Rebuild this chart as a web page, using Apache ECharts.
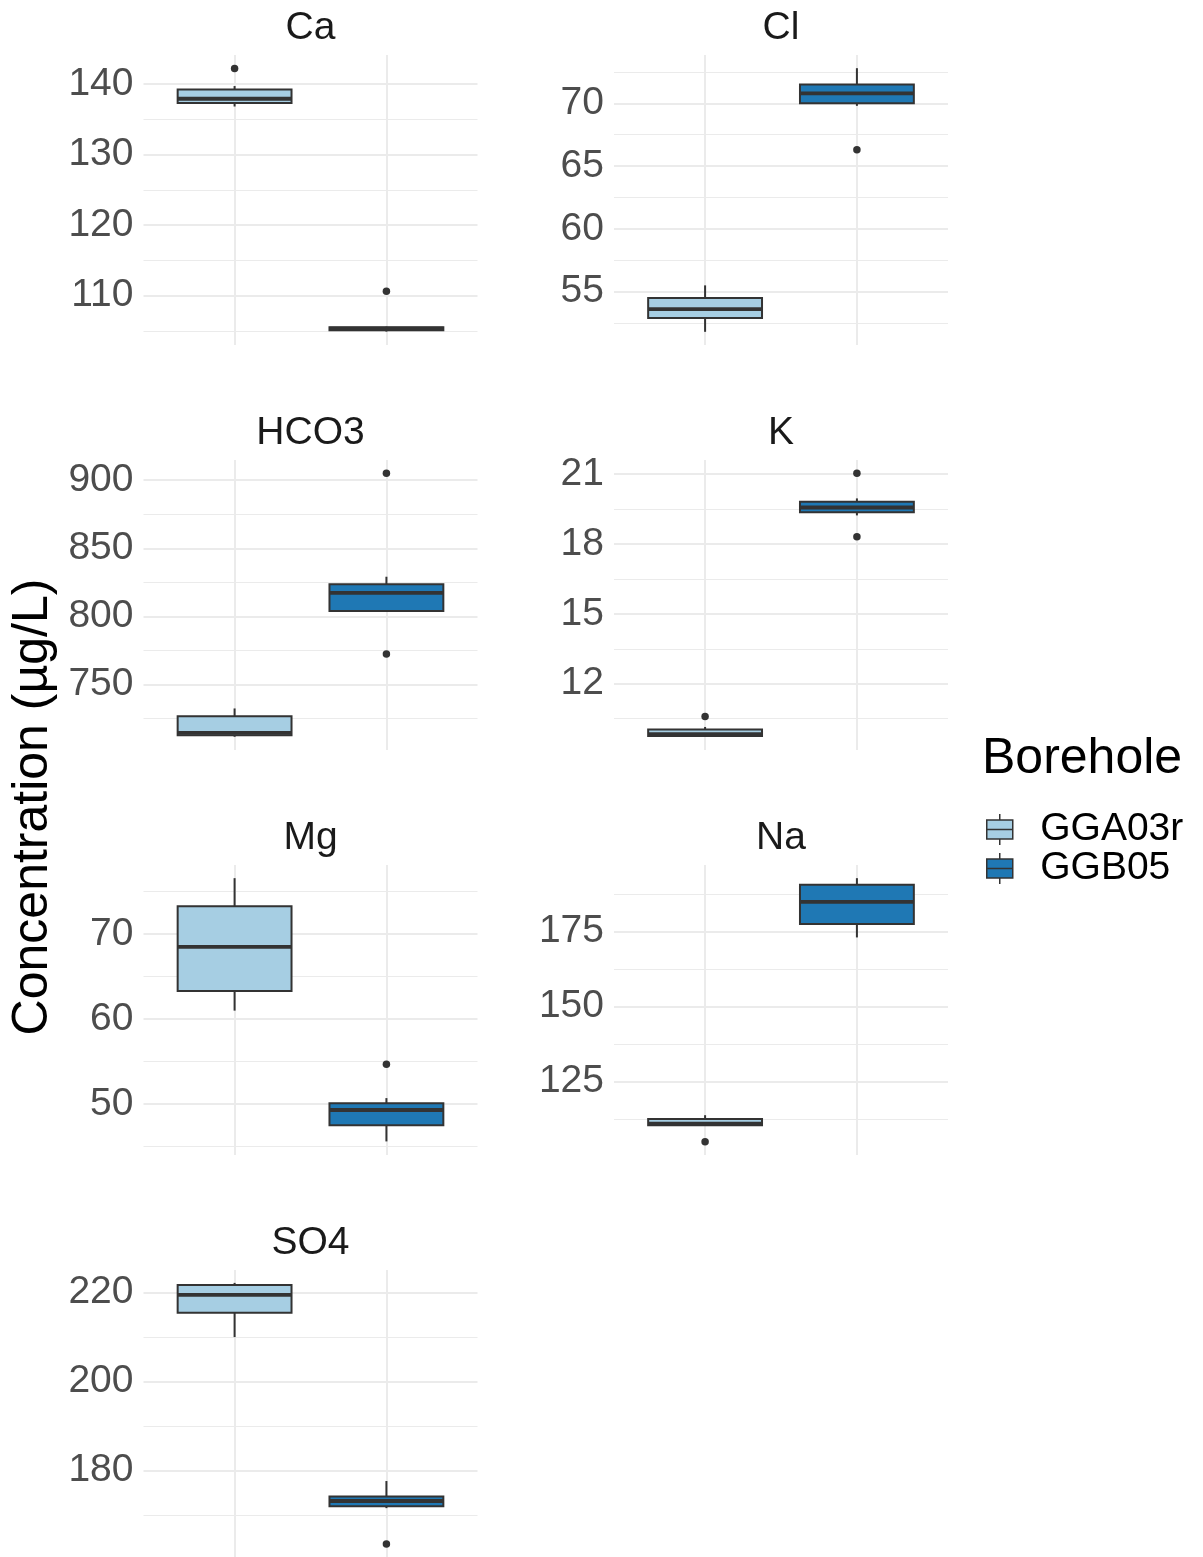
<!DOCTYPE html>
<html>
<head>
<meta charset="utf-8">
<title>Concentration by borehole</title>
<script src="https://cdn.jsdelivr.net/npm/echarts@6/dist/echarts.min.js"></script>
<style>
  html, body { margin: 0; padding: 0; background: #fff; }
  #main { width: 1203px; height: 1557px; }
</style>
</head>
<body>
<div id="main"></div>
<script>
// data
var elements = ['Ca', 'Cl', 'HCO3', 'K', 'Mg', 'Na', 'SO4'];
var boreholes = ['GGA03r', 'GGB05'];

// [lower whisker, Q1, median, Q3, upper whisker]
var statsGGA03r = [
    [136.8, 137.3, 137.9, 139.2, 139.7],
    [51.8, 52.9, 53.6, 54.5, 55.5],
    [711.6, 712.8, 714.5, 726.7, 732.4],
    [9.72, 9.75, 9.83, 10.03, 10.14],
    [61.0, 63.3, 68.5, 73.3, 76.6],
    [110.1, 110.3, 110.9, 112.4, 113.7],
    [210.0, 215.5, 219.5, 221.7, 222.2]
];
var statsGGB05 = [
    [104.9, 105.1, 105.3, 105.5, 105.6],
    [69.8, 70.0, 70.8, 71.5, 72.8],
    [803.9, 803.9, 817.3, 823.5, 829.1],
    [19.23, 19.37, 19.57, 19.82, 19.96],
    [45.6, 47.5, 49.3, 50.1, 50.7],
    [173.1, 177.6, 185.0, 190.7, 192.9],
    [171.5, 171.9, 173.1, 174.1, 177.6]
];
var outliersGGA03r = [[142.2], [], [], [10.59], [], [104.8], []];
var outliersGGB05 = [[110.6], [66.3], [905.1, 772.3], [21.04, 18.31], [54.7], [], [163.4]];

// y scale of each panel
var yMin = [103.0, 50.75, 701.9, 9.15, 44.0, 100.4, 160.5];
var yMax = [144.1, 73.85, 914.8, 21.61, 78.15, 197.3, 225.1];
var yStep = [10, 5, 50, 3, 10, 25, 20];

(function () {
    var myChart = echarts.init(document.getElementById('main'));

    var colors = { GGA03r: '#A6CEE3', GGB05: '#1F78B4' };
    var font = '"Liberation Sans", Arial, sans-serif';
    var gridColor = '#EBEBEB';
    var ink = '#333333';
    var halfBox = 0.375;

    function renderBox(params, api) {
        var x = api.value(0);
        var lo = api.coord([x, api.value(1)]);
        var q1 = api.coord([x, api.value(2)]);
        var med = api.coord([x, api.value(3)]);
        var q3 = api.coord([x, api.value(4)]);
        var hi = api.coord([x, api.value(5)]);
        var left = api.coord([x - halfBox, api.value(3)])[0];
        var right = api.coord([x + halfBox, api.value(3)])[0];
        var lineStyle = { stroke: ink, lineWidth: 2 };
        return {
            type: 'group',
            children: [
                { type: 'line', shape: { x1: lo[0], y1: lo[1], x2: q1[0], y2: q1[1] }, style: lineStyle },
                { type: 'line', shape: { x1: q3[0], y1: q3[1], x2: hi[0], y2: hi[1] }, style: lineStyle },
                {
                    type: 'rect',
                    shape: { x: left, y: q3[1], width: right - left, height: q1[1] - q3[1] },
                    style: { fill: api.visual('color'), stroke: ink, lineWidth: 2 }
                },
                { type: 'line', shape: { x1: left, y1: med[1], x2: right, y2: med[1] }, style: { stroke: ink, lineWidth: 3.8 } }
            ]
        };
    }

    var grids = [], xAxes = [], yAxes = [], series = [], graphics = [];

    elements.forEach(function (el, i) {
        var col = i % 2, row = Math.floor(i / 2);
        var left = col ? 614 : 143.5;
        var top = 55 + row * 405;
        grids.push({ left: left, top: top, width: 334, height: 290 });

        xAxes.push({
            gridIndex: i, type: 'value', min: 0.4, max: 2.6, minInterval: 1, maxInterval: 1,
            axisLine: { show: false }, axisTick: { show: false }, axisLabel: { show: false },
            splitLine: { show: true, showMinLine: false, showMaxLine: false, lineStyle: { color: gridColor, width: 2 } }
        });
        yAxes.push({
            gridIndex: i, type: 'value', min: yMin[i], max: yMax[i],
            minInterval: yStep[i], maxInterval: yStep[i],
            axisLine: { show: false }, axisTick: { show: false },
            axisLabel: {
                show: true, showMinLabel: false, showMaxLabel: false, margin: 10,
                fontSize: 39, color: '#4D4D4D', fontFamily: font
            },
            splitLine: { show: true, showMinLine: false, showMaxLine: false, lineStyle: { color: gridColor, width: 2 } },
            minorTick: { show: false, splitNumber: 2 },
            minorSplitLine: { show: true, lineStyle: { color: gridColor, width: 1 } }
        });

        var stats = [statsGGA03r[i], statsGGB05[i]];
        var outs = [outliersGGA03r[i], outliersGGB05[i]];
        boreholes.forEach(function (b, k) {
            series.push({
                type: 'custom', name: b, xAxisIndex: i, yAxisIndex: i,
                itemStyle: { color: colors[b] },
                renderItem: renderBox,
                encode: { x: 0, y: [1, 2, 3, 4, 5] },
                data: [[k + 1].concat(stats[k])],
                z: 2
            });
        });
        var pts = [];
        outs.forEach(function (arr, k) {
            arr.forEach(function (v) { pts.push([k + 1, v]); });
        });
        series.push({
            type: 'scatter', name: 'outlier', xAxisIndex: i, yAxisIndex: i,
            symbolSize: 7.5, itemStyle: { color: ink, opacity: 1 },
            data: pts, z: 3
        });

        graphics.push({
            type: 'text', x: left + 167, y: top - 27,
            style: { text: el, font: '39px ' + font, fill: '#1A1A1A', textAlign: 'center', textVerticalAlign: 'middle' }
        });
    });

    graphics.push({
        type: 'text', x: 33, y: 807, rotation: Math.PI / 2,
        style: { text: 'Concentration (µg/L)', font: '50px ' + font, fill: '#000', textAlign: 'center', textVerticalAlign: 'middle' }
    });
    graphics.push({
        type: 'text', x: 982, y: 759,
        style: { text: 'Borehole', font: '50px ' + font, fill: '#000', textAlign: 'left', textVerticalAlign: 'middle' }
    });

    var keyIcon = 'path://M13,0V6M13,25V31M0,6H26V25H0ZM0,15.5H26';

    var option = {
        animation: false,
        backgroundColor: '#ffffff',
        grid: grids,
        xAxis: xAxes,
        yAxis: yAxes,
        legend: {
            left: 981, top: 805, orient: 'vertical',
            itemWidth: 27, itemHeight: 31, itemGap: 0,
            data: [{ name: 'GGA03r', icon: keyIcon }, { name: 'GGB05', icon: keyIcon }],
            itemStyle: { borderColor: ink, borderWidth: 1.5 },
            textStyle: { fontSize: 39, color: '#000', fontFamily: font, padding: [0, 0, 0, 22], lineHeight: 34 },
            selectedMode: false
        },
        graphic: graphics,
        series: series
    };

    myChart.setOption(option);
}());
</script>
</body>
</html>
